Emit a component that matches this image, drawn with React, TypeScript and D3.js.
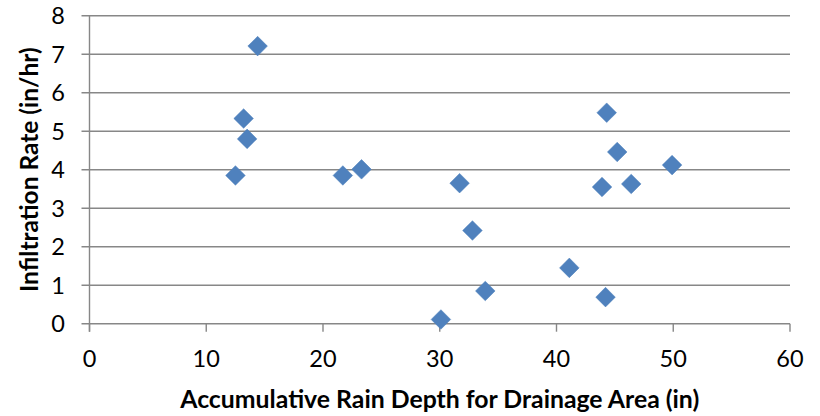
import React from "react";
import * as d3 from "d3";

const rainDepth = [12.5, 13.2, 13.5, 14.4, 21.7, 23.3, 31.7, 32.8, 33.9, 30.1, 41.1, 44.2, 43.9, 44.3, 45.2, 46.4, 49.9];
const infiltration = [3.85, 5.33, 4.8, 7.21, 3.85, 4.01, 3.65, 2.42, 0.85, 0.11, 1.45, 0.69, 3.55, 5.48, 4.46, 3.63, 4.12];
const xTicks = [0, 10, 20, 30, 40, 50, 60];
const yTicks = [0, 1, 2, 3, 4, 5, 6, 7, 8];
const xTitle = "Accumulative Rain Depth for Drainage Area (in)";
const yTitle = "Infiltration Rate (in/hr)";

export default function App() {
  const W = 820, H = 416;
  const left = 89.5, right = 790, top = 15.7, bottom = 323.7;
  const x = d3.scaleLinear().domain([0, 60]).range([left, right]);
  const y = d3.scaleLinear().domain([0, 8]).range([bottom, top]);
  const grid = "#878787";
  const font = "Lato, 'Open Sans', sans-serif";
  const r = 9.8;
  const diamond = (cx: number, cy: number) => `M${cx},${cy - r}L${cx + r},${cy}L${cx},${cy + r}L${cx - r},${cy}Z`;
  return (
    <svg width={W} height={H} style={{ position: "absolute", left: 0, top: 0, background: "#fff" }}>
      {yTicks.map((t) => (
        <g key={"y" + t}>
          <line x1={left - 8} x2={right} y1={y(t)} y2={y(t)} stroke={grid} strokeWidth={1.4} />
          <text x={65} y={y(t)} dy="0.36em" textAnchor="end" fontFamily={font} fontSize={23.5} fill="#000">{t}</text>
        </g>
      ))}
      {xTicks.map((t) => (
        <g key={"x" + t}>
          <line x1={x(t)} x2={x(t)} y1={bottom} y2={bottom + 8} stroke={grid} strokeWidth={1.4} />
          <text x={x(t)} y={367} textAnchor="middle" fontFamily={font} fontSize={23.5} fill="#000">{t}</text>
        </g>
      ))}
      <line x1={left} x2={left} y1={top} y2={bottom + 8} stroke={grid} strokeWidth={1.4} />
      {rainDepth.map((d, i) => (
        <path key={i} d={diamond(x(d), y(infiltration[i]))} fill="#4F81BD" stroke="#4A7EBB" strokeWidth={0.5} />
      ))}
      <text x={(left + right) / 2} y={408} textAnchor="middle" fontFamily={font} fontWeight="bold" fontSize={24.8} fill="#000">{xTitle}</text>
      <text transform={`translate(38,${(top + bottom) / 2}) rotate(-90)`} textAnchor="middle" fontFamily={font} fontWeight="bold" fontSize={24.5} fill="#000">{yTitle}</text>
    </svg>
  );
}
